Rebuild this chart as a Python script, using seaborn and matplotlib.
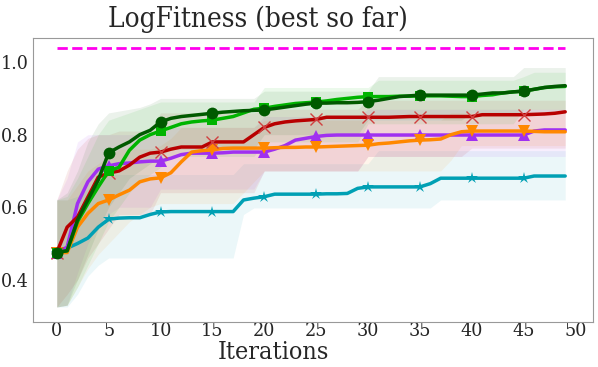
import matplotlib
matplotlib.use("Agg")
import matplotlib.pyplot as plt
import numpy as np
import seaborn as sns

iterations = np.arange(50)
target = 1.04

teal_mean = [0.475, 0.487, 0.50, 0.515, 0.545, 0.567, 0.57, 0.571, 0.571, 0.58,
             0.587, 0.588, 0.588, 0.588, 0.588, 0.588, 0.588, 0.588, 0.62, 0.625,
             0.629, 0.636, 0.636, 0.636, 0.636, 0.636, 0.637, 0.637, 0.638, 0.652,
             0.656, 0.656, 0.656, 0.656, 0.656, 0.656, 0.665, 0.68, 0.68, 0.68,
             0.68, 0.68, 0.68, 0.68, 0.68, 0.68, 0.686, 0.686, 0.686, 0.686]
teal_lo = [0.325, 0.325, 0.36, 0.41, 0.44, 0.46, 0.46, 0.46, 0.46, 0.46,
           0.46, 0.46, 0.46, 0.46, 0.46, 0.46, 0.46, 0.46, 0.58, 0.598,
           0.598, 0.598, 0.598, 0.598, 0.598, 0.598, 0.598, 0.598, 0.598, 0.598,
           0.598, 0.598, 0.598, 0.598, 0.598, 0.598, 0.598, 0.62, 0.62, 0.62,
           0.62, 0.62, 0.62, 0.62, 0.62, 0.62, 0.62, 0.62, 0.62, 0.62]
teal_hi = [0.62, 0.62, 0.63, 0.65, 0.67, 0.69, 0.69, 0.69, 0.69, 0.69,
           0.69, 0.69, 0.69, 0.69, 0.69, 0.69, 0.69, 0.69, 0.72, 0.72,
           0.72, 0.72, 0.72, 0.72, 0.72, 0.72, 0.72, 0.72, 0.72, 0.72,
           0.72, 0.756, 0.756, 0.756, 0.756, 0.756, 0.756, 0.756, 0.756, 0.756,
           0.756, 0.756, 0.756, 0.756, 0.756, 0.756, 0.756, 0.756, 0.756, 0.756]

purple_mean = [0.475, 0.49, 0.61, 0.67, 0.705, 0.714, 0.72, 0.722, 0.725, 0.727,
               0.727, 0.735, 0.745, 0.749, 0.749, 0.749, 0.75, 0.752, 0.752, 0.752,
               0.752, 0.76, 0.77, 0.785, 0.79, 0.795, 0.798, 0.799, 0.799, 0.799,
               0.799, 0.799, 0.799, 0.799, 0.799, 0.799, 0.799, 0.799, 0.799, 0.799,
               0.799, 0.799, 0.799, 0.799, 0.799, 0.799, 0.81, 0.813, 0.813, 0.813]
purple_lo = [0.325, 0.33, 0.42, 0.50, 0.55, 0.58, 0.60, 0.60, 0.60, 0.60,
             0.65, 0.65, 0.65, 0.65, 0.65, 0.65, 0.65, 0.65, 0.65, 0.65,
             0.70, 0.70, 0.70, 0.70, 0.70, 0.70, 0.70, 0.70, 0.70, 0.70,
             0.74, 0.74, 0.74, 0.74, 0.74, 0.74, 0.74, 0.74, 0.74, 0.74,
             0.74, 0.74, 0.74, 0.74, 0.74, 0.74, 0.74, 0.74, 0.74, 0.74]
purple_hi = [0.62, 0.68, 0.78, 0.80, 0.80, 0.80, 0.80, 0.80, 0.80, 0.80,
             0.80, 0.82, 0.82, 0.82, 0.82, 0.82, 0.82, 0.82, 0.82, 0.82,
             0.85, 0.85, 0.85, 0.85, 0.85, 0.85, 0.85, 0.85, 0.85, 0.85,
             0.87, 0.87, 0.87, 0.87, 0.87, 0.87, 0.87, 0.87, 0.87, 0.87,
             0.87, 0.87, 0.87, 0.87, 0.87, 0.87, 0.87, 0.87, 0.87, 0.87]

orange_mean = [0.475, 0.475, 0.545, 0.583, 0.61, 0.62, 0.634, 0.647, 0.67, 0.678,
               0.681, 0.695, 0.725, 0.752, 0.756, 0.758, 0.762, 0.763, 0.763, 0.763,
               0.763, 0.764, 0.765, 0.765, 0.766, 0.766, 0.767, 0.768, 0.769, 0.77,
               0.771, 0.775, 0.777, 0.78, 0.783, 0.785, 0.786, 0.788, 0.80, 0.808,
               0.81, 0.81, 0.81, 0.81, 0.81, 0.81, 0.809, 0.808, 0.808, 0.808]
orange_lo = [0.325, 0.33, 0.38, 0.43, 0.47, 0.50, 0.53, 0.56, 0.58, 0.60,
             0.61, 0.61, 0.61, 0.61, 0.61, 0.61, 0.61, 0.61, 0.64, 0.67,
             0.70, 0.70, 0.70, 0.70, 0.70, 0.70, 0.70, 0.70, 0.70, 0.70,
             0.70, 0.70, 0.70, 0.70, 0.70, 0.70, 0.70, 0.70, 0.73, 0.77,
             0.77, 0.77, 0.77, 0.77, 0.77, 0.77, 0.77, 0.77, 0.77, 0.77]
orange_hi = [0.62, 0.62, 0.66, 0.70, 0.72, 0.74, 0.76, 0.76, 0.76, 0.76,
             0.77, 0.79, 0.82, 0.82, 0.82, 0.82, 0.82, 0.82, 0.82, 0.82,
             0.84, 0.84, 0.84, 0.84, 0.84, 0.84, 0.84, 0.84, 0.84, 0.84,
             0.84, 0.84, 0.84, 0.84, 0.84, 0.84, 0.84, 0.84, 0.86, 0.86,
             0.86, 0.86, 0.86, 0.86, 0.86, 0.86, 0.86, 0.86, 0.86, 0.86]

red_mean = [0.475, 0.545, 0.573, 0.628, 0.683, 0.694, 0.70, 0.716, 0.738, 0.749,
            0.752, 0.76, 0.766, 0.766, 0.766, 0.78, 0.78, 0.78, 0.78, 0.80,
            0.82, 0.83, 0.835, 0.838, 0.84, 0.842, 0.848, 0.848, 0.848, 0.848,
            0.848, 0.848, 0.848, 0.849, 0.85, 0.85, 0.85, 0.85, 0.85, 0.85,
            0.85, 0.855, 0.855, 0.855, 0.855, 0.855, 0.856, 0.857, 0.859, 0.863]
red_lo = [0.325, 0.36, 0.40, 0.46, 0.50, 0.54, 0.58, 0.58, 0.58, 0.58,
          0.64, 0.64, 0.64, 0.64, 0.64, 0.64, 0.64, 0.64, 0.64, 0.64,
          0.70, 0.70, 0.70, 0.70, 0.70, 0.70, 0.70, 0.70, 0.70, 0.70,
          0.74, 0.74, 0.74, 0.74, 0.74, 0.74, 0.74, 0.74, 0.74, 0.74,
          0.763, 0.763, 0.763, 0.763, 0.763, 0.763, 0.763, 0.763, 0.763, 0.763]
red_hi = [0.62, 0.70, 0.76, 0.79, 0.80, 0.80, 0.81, 0.81, 0.81, 0.81,
          0.86, 0.86, 0.86, 0.86, 0.86, 0.86, 0.86, 0.86, 0.86, 0.86,
          0.87, 0.87, 0.87, 0.87, 0.87, 0.87, 0.87, 0.87, 0.87, 0.87,
          0.895, 0.895, 0.895, 0.895, 0.895, 0.895, 0.895, 0.895, 0.895, 0.895,
          0.895, 0.895, 0.895, 0.895, 0.895, 0.895, 0.895, 0.895, 0.895, 0.895]

green_mean = [0.475, 0.48, 0.56, 0.61, 0.656, 0.70, 0.71, 0.757, 0.785, 0.80,
              0.81, 0.82, 0.83, 0.835, 0.838, 0.84, 0.845, 0.85, 0.86, 0.87,
              0.873, 0.878, 0.882, 0.886, 0.888, 0.89, 0.893, 0.897, 0.90, 0.903,
              0.905, 0.905, 0.905, 0.906, 0.906, 0.907, 0.907, 0.907, 0.906, 0.905,
              0.905, 0.908, 0.91, 0.915, 0.918, 0.92, 0.925, 0.93, 0.932, 0.933]
green_lo = [0.325, 0.33, 0.38, 0.44, 0.50, 0.56, 0.60, 0.64, 0.67, 0.69,
            0.71, 0.74, 0.74, 0.74, 0.74, 0.74, 0.74, 0.74, 0.74, 0.74,
            0.78, 0.78, 0.78, 0.78, 0.78, 0.78, 0.78, 0.78, 0.78, 0.78,
            0.83, 0.83, 0.83, 0.83, 0.83, 0.83, 0.83, 0.83, 0.83, 0.83,
            0.83, 0.83, 0.83, 0.83, 0.83, 0.87, 0.87, 0.87, 0.87, 0.87]
green_hi = [0.62, 0.63, 0.68, 0.74, 0.80, 0.84, 0.85, 0.86, 0.87, 0.88,
            0.89, 0.89, 0.89, 0.89, 0.89, 0.89, 0.89, 0.89, 0.89, 0.89,
            0.93, 0.93, 0.93, 0.93, 0.93, 0.93, 0.93, 0.93, 0.93, 0.93,
            0.93, 0.95, 0.95, 0.95, 0.95, 0.95, 0.95, 0.95, 0.95, 0.95,
            0.95, 0.95, 0.95, 0.95, 0.95, 0.96, 0.972, 0.972, 0.972, 0.972]

dgreen_mean = [0.475, 0.48, 0.565, 0.62, 0.675, 0.75, 0.766, 0.78, 0.80, 0.812,
               0.835, 0.845, 0.85, 0.853, 0.856, 0.859, 0.862, 0.864, 0.866, 0.867,
               0.868, 0.872, 0.876, 0.88, 0.884, 0.887, 0.887, 0.888, 0.888, 0.889,
               0.891, 0.895, 0.90, 0.905, 0.907, 0.909, 0.909, 0.909, 0.909, 0.909,
               0.909, 0.912, 0.915, 0.915, 0.918, 0.92, 0.925, 0.93, 0.933, 0.935]
dgreen_lo = [0.325, 0.33, 0.40, 0.47, 0.54, 0.60, 0.64, 0.68, 0.70, 0.72,
             0.74, 0.76, 0.76, 0.76, 0.76, 0.76, 0.76, 0.76, 0.76, 0.76,
             0.80, 0.80, 0.80, 0.80, 0.80, 0.80, 0.80, 0.80, 0.80, 0.80,
             0.84, 0.84, 0.84, 0.84, 0.84, 0.84, 0.84, 0.84, 0.84, 0.84,
             0.86, 0.86, 0.86, 0.86, 0.86, 0.86, 0.86, 0.86, 0.86, 0.86]
dgreen_hi = [0.62, 0.64, 0.70, 0.78, 0.83, 0.86, 0.865, 0.87, 0.875, 0.885,
             0.90, 0.90, 0.90, 0.90, 0.90, 0.90, 0.90, 0.90, 0.90, 0.90,
             0.92, 0.92, 0.92, 0.92, 0.92, 0.92, 0.92, 0.92, 0.92, 0.92,
             0.92, 0.96, 0.96, 0.96, 0.96, 0.96, 0.96, 0.96, 0.96, 0.96,
             0.96, 0.96, 0.96, 0.96, 0.96, 0.985, 0.985, 0.985, 0.985, 0.985]

series = [
    (teal_mean, teal_lo, teal_hi, "#00a0b4", "*", 9),
    (purple_mean, purple_lo, purple_hi, "#a030f0", "^", 8),
    (orange_mean, orange_lo, orange_hi, "#ff8800", "v", 8),
    (red_mean, red_lo, red_hi, "#b80000", "x", 9),
    (green_mean, green_lo, green_hi, "#00b400", "s", 7.5),
    (dgreen_mean, dgreen_lo, dgreen_hi, "#005a00", "o", 8.5),
]

sns.set_style("white")
plt.rcParams["font.family"] = ["DejaVu Serif"]
plt.rcParams["font.stretch"] = "condensed"

fig = plt.figure(figsize=(5.98, 3.67), dpi=100)
ax = fig.add_axes([0.055, 0.123, 0.937, 0.773])

for mean, lo, hi, color, marker, ms in series:
    ax.fill_between(iterations, lo, hi, color=color, alpha=0.08, linewidth=0)

for mean, lo, hi, color, marker, ms in series:
    if marker == "x":
        sns.lineplot(x=iterations, y=mean, color=color, linewidth=2.5, ax=ax)
        ax.plot(iterations, mean, linestyle="none", marker="x", markevery=5,
                markersize=ms, markeredgewidth=1.0, color="#d04040")
    else:
        sns.lineplot(x=iterations, y=mean, color=color, linewidth=2.5,
                     marker=marker, markevery=5, markersize=ms,
                     markeredgewidth=0, ax=ax)

ax.plot(iterations, [target] * len(iterations), linestyle="--",
        color="#ff00ee", linewidth=2)

ax.set_xlim(-2.3, 51.7)
ax.set_ylim(0.284, 1.066)
ax.set_xticks(range(0, 51, 5))
ax.set_yticks([0.4, 0.6, 0.8, 1.0])
ax.tick_params(labelsize=14, length=0, pad=0)
ax.tick_params(axis="y", pad=3)
ax.set_title("LogFitness (best so far)", fontsize=20, pad=8, x=0.402)
ax.set_xlabel("Iterations", fontsize=18, labelpad=0)
ax.xaxis.set_label_coords(0.429, -0.066)
ax.set_ylabel("")
for sp in ax.spines.values():
    sp.set_color("#999999")

fig.savefig("out.png", dpi=100)
